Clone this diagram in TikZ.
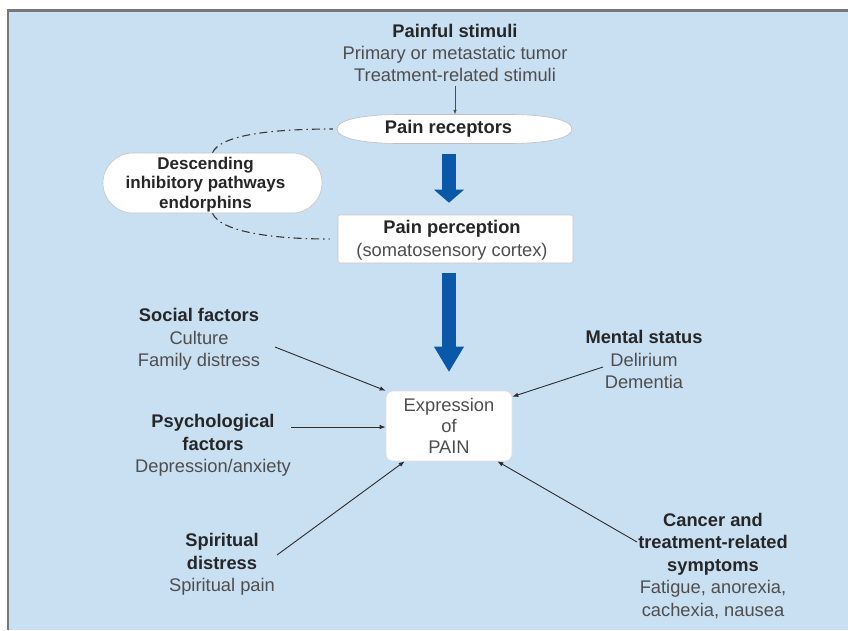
\documentclass[tikz,border=0pt]{standalone}
\usepackage{fontspec}
\setmainfont{Liberation Sans}
\usetikzlibrary{arrows.meta}
\definecolor{bgblue}{RGB}{201,223,242}
\definecolor{framegray}{RGB}{120,120,120}
\definecolor{tdark}{RGB}{38,38,38}
\definecolor{tgray}{RGB}{78,78,78}
\definecolor{bigblue}{RGB}{10,88,168}
\definecolor{lnk}{RGB}{45,45,45}
\def\LS{22pt}
\newcommand{\lsp}{\rule[\dimexpr 6pt-\LS/2\relax]{0pt}{\LS}}
\newcommand{\bt}[1]{{\color{tdark}\bfseries #1}}
\tikzset{
  lbl/.style={inner sep=0pt, align=center, text=tgray,
    font={\fontsize{18.3}{#1}\selectfont\def\LS{#1}}},
  boxw/.style={fill=white, draw=gray!45, line width=0.6pt, inner sep=0pt, align=center},
  thinarr/.style={draw=lnk, line width=0.9pt, -{Latex[length=6pt,width=4.5pt]}},
  toparr/.style={draw=gray!60!black, line width=0.6pt, -{Latex[length=4.5pt,width=3.5pt]}},
  bigarr/.style={draw=bigblue, line width=14.5pt,
    -{Triangle[width=30pt,length=#1,line width=0pt]}},
  dd/.style={draw=gray!45!black, line width=1.1pt,
    dash pattern=on 8pt off 4pt on 1.5pt off 4pt}
}
\begin{document}
\begin{tikzpicture}[x=1pt,y=-1pt]
\useasboundingbox (0,0) rectangle (848,630);
\fill[bgblue] (8,11) rectangle (848,630);
\draw[framegray, line width=2.2pt] (8,630) -- (8,10.5) -- (848,10.5);

% Pain receptors (flattened ellipse)
\begin{scope}[shift={(454.5,129)}]
\filldraw[fill=white, draw=gray!50, line width=0.6pt]
  (-117.5,0) .. controls (-117.5,-9.5) and (-90,-14.5) .. (-55,-14.5)
  -- (55,-14.5) .. controls (90,-14.5) and (117.5,-9.5) .. (117.5,0)
  .. controls (117.5,9.5) and (90,14.5) .. (55,14.5)
  -- (-55,14.5) .. controls (-90,14.5) and (-117.5,9.5) .. (-117.5,0) -- cycle;
\end{scope}
\node[inner sep=0pt, minimum width=235pt, minimum height=29pt,
      font=\fontsize{18.3}{22}\selectfont\bfseries, text=tdark]
  (rec) at (454.5,129) {Pain receptors\hspace*{12pt}};

% Painful stimuli
\node[lbl=22pt] (stim) at (455,53)
  {\bt{Painful stimuli}\lsp\\Primary or metastatic tumor\lsp\\Treatment-related stimuli\lsp};
\draw[toparr] (stim.south) -- (stim.south |- rec.north);

% Descending pathways
\node[boxw, rounded corners=30pt, minimum width=219pt, minimum height=60pt,
      text=tdark, font={\fontsize{17}{18.5}\selectfont\bfseries\def\LS{18.5pt}}]
  (pill) at (212.5,183)
  {Descending\hspace*{14pt}\lsp\\inhibitory pathways\hspace*{14pt}\lsp\\endorphins\hspace*{14pt}\lsp};

% Pain perception
\node[boxw, rounded corners=2pt, minimum width=235pt, minimum height=48pt,
      text=tgray, font={\fontsize{18.3}{23}\selectfont\def\LS{23pt}}]
  (perc) at (455.5,239)
  {\bt{Pain perception}\hspace*{7pt}\lsp\\(somatosensory cortex)\hspace*{7pt}\lsp};

% Expression of PAIN
\node[boxw, draw=gray!25, rounded corners=7pt, minimum width=126pt, minimum height=70pt,
      text=tgray, font={\fontsize{18.3}{21}\selectfont\def\LS{21pt}}]
  (expr) at (449,426)
  {Expression\lsp\\of\lsp\\PAIN\lsp};

% dash-dot feedback paths
\draw[dd] (pill.north) .. controls +(8,-18) and +(-60,0) .. ([xshift=-4pt]rec.west);
\draw[dd] (pill.south) .. controls +(8,18) and +(-60,0) .. ([xshift=-8pt]perc.west);

% big blue arrows
\draw[bigarr=13pt, shorten <=10pt, shorten >=12pt]
  (rec.south -| expr.north) -- (perc.north -| expr.north);
\draw[bigarr=25pt, shorten <=10pt, shorten >=19pt]
  (perc.south -| expr.north) -- (expr.north);

% factor labels
\node[lbl=22.5pt] (soc) at (199,338)
  {\bt{Social factors}\lsp\\Culture\lsp\\Family distress\lsp};
\node[lbl=22.5pt] (ment) at (644,360)
  {\bt{Mental status}\lsp\\Delirium\lsp\\Dementia\lsp};
\node[lbl=22.5pt] (psy) at (213,444)
  {\bt{Psychological}\lsp\\\bt{factors}\lsp\\Depression/anxiety\lsp};
\node[lbl=22.5pt] (spi) at (222,563)
  {\bt{Spiritual}\lsp\\\bt{distress}\lsp\\Spiritual pain\lsp};
\node[lbl=22.5pt] (can) at (713,565)
  {\bt{Cancer and}\lsp\\\bt{treatment-related}\lsp\\\bt{symptoms}\lsp\\Fatigue, anorexia,\lsp\\cachexia, nausea\lsp};

% arrow start points
\coordinate (socE) at (275,347);
\coordinate (menE) at (603,367);
\coordinate (psyE) at (291,427);
\coordinate (spiE) at (277,555);
\coordinate (canE) at (637,542);

\draw[thinarr] (socE) -- (expr.north west);
\draw[thinarr] (menE) -- ([yshift=-6pt]expr.north east);
\draw[thinarr] (psyE) -- (psyE -| expr.west);
\draw[thinarr] (spiE) -- ([xshift=19pt]expr.south west);
\draw[thinarr] (canE) -- ([xshift=-15pt]expr.south east);
\end{tikzpicture}
\end{document}
